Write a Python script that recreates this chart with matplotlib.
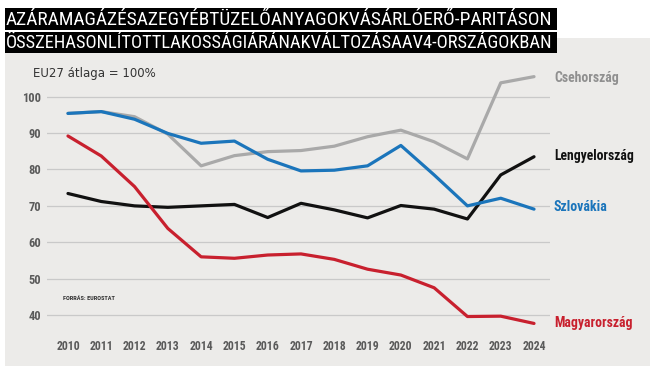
import matplotlib
matplotlib.use("Agg")
import matplotlib.pyplot as plt
from matplotlib.patches import Rectangle

W, H = 659, 369

years = list(range(2010, 2025))
cz = [95.4, 95.9, 94.5, 89.7, 81.0, 83.8, 84.9, 85.2, 86.4, 89.0, 90.8, 87.6, 82.9, 103.8, 105.5]
pl = [73.4, 71.2, 70.0, 69.6, 70.0, 70.4, 66.8, 70.7, 68.9, 66.7, 70.1, 69.1, 66.4, 78.5, 83.5]
sk = [95.4, 95.9, 93.8, 89.9, 87.2, 87.8, 82.8, 79.6, 79.8, 81.0, 86.6, 78.5, 70.0, 72.1, 69.1]
hu = [89.2, 83.7, 75.3, 63.8, 56.0, 55.6, 56.5, 56.8, 55.3, 52.6, 51.0, 47.5, 39.6, 39.7, 37.7]
yticks = [40, 50, 60, 70, 80, 90, 100]

title_lines = ["AZÁRAMAGÁZÉSAZEGYÉBTÜZELŐANYAGOKVÁSÁRLÓERŐ-PARITÁSON",
               "ÖSSZEHASONLÍTOTTLAKOSSÁGIÁRÁNAKVÁLTOZÁSAAV4-ORSZÁGOKBAN"]

NARROW = ["Liberation Sans Narrow", "DejaVu Sans Condensed", "Roboto Condensed", "Liberation Sans"]
BG = "#ecebe9"
C_GREY, C_BLACK, C_BLUE, C_RED = "#a9a9a9", "#111111", "#1b75bb", "#c8202e"


def fx(x):
    return x / W


def fy(y):
    return 1 - y / H


fig = plt.figure(figsize=(W / 100, H / 100), dpi=100)
fig.patch.set_facecolor("white")
renderer = fig.canvas.get_renderer()


def fit(t, width):
    # shrink/grow the font so the text spans the given pixel width
    fs = t.get_fontsize()
    t.set_fontsize(fs * width / t.get_window_extent(renderer).width)


# grey panel
fig.add_artist(Rectangle((fx(5), fy(366)), fx(645), 328 / H, transform=fig.transFigure,
                         facecolor=BG, edgecolor="none", zorder=0))

# title boxes
for line, (y0, y1) in zip(title_lines, [(8, 30), (32, 53)]):
    fig.add_artist(Rectangle((fx(5), fy(y1)), fx(552), (y1 - y0) / H, transform=fig.transFigure,
                             facecolor="black", edgecolor="none", zorder=2))
    t = fig.text(fx(6), fy((y0 + y1) / 2 + 1), line, color="white", fontsize=16,
                 family=NARROW, ha="left", va="center", zorder=3)
    fit(t, 550)

# axes: x 47..550 px, y 65..330 px
ax = fig.add_axes([fx(47), fy(330), (550 - 47) / W, (330 - 65) / H])
ax.set_facecolor("none")
ax.set_xlim(2009.37, 2024.48)
ax.set_ylim(35.9, 108.7)
for s in ax.spines.values():
    s.set_visible(False)

for v in yticks:
    ax.axhline(v, color="#c9c9c9", lw=0.9, zorder=1)

for vals, col in [(cz, C_GREY), (pl, C_BLACK), (hu, C_RED), (sk, C_BLUE)]:
    ax.plot(years, vals, color=col, lw=2.3, solid_capstyle="round", zorder=3)

ax.set_yticks(yticks)
ax.set_yticklabels([str(v) for v in yticks], fontsize=9, fontweight="bold",
                   color="#5a5a5a", family=NARROW)
ax.set_xticks(years)
ax.set_xticklabels([str(y) for y in years], fontsize=8.5, fontweight="bold",
                   color="#5a5a5a", family=NARROW)
ax.tick_params(axis="y", length=0, pad=4)
ax.tick_params(axis="x", length=0, pad=7)

fig.text(fx(33), fy(73), "EU27 átlaga = 100%", fontsize=8.5, color="#333333",
         ha="left", va="center")
fig.text(fx(63), fy(298), "FORRÁS: EUROSTAT", fontsize=4.5, fontweight="bold",
         color="#333333", ha="left", va="center", family=NARROW)

labels = [("Csehország", 78, "#8f8f8f", 65), ("Lengyelország", 156, C_BLACK, 80),
          ("Szlovákia", 207, C_BLUE, 54), ("Magyarország", 323, C_RED, 79)]
for txt, y, col, wpx in labels:
    t = fig.text(fx(554), fy(y), txt, fontsize=10.5, fontweight="bold", color=col,
                 ha="left", va="center", family=NARROW)
    fit(t, wpx)

fig.savefig("out.png", dpi=100, facecolor="white")
